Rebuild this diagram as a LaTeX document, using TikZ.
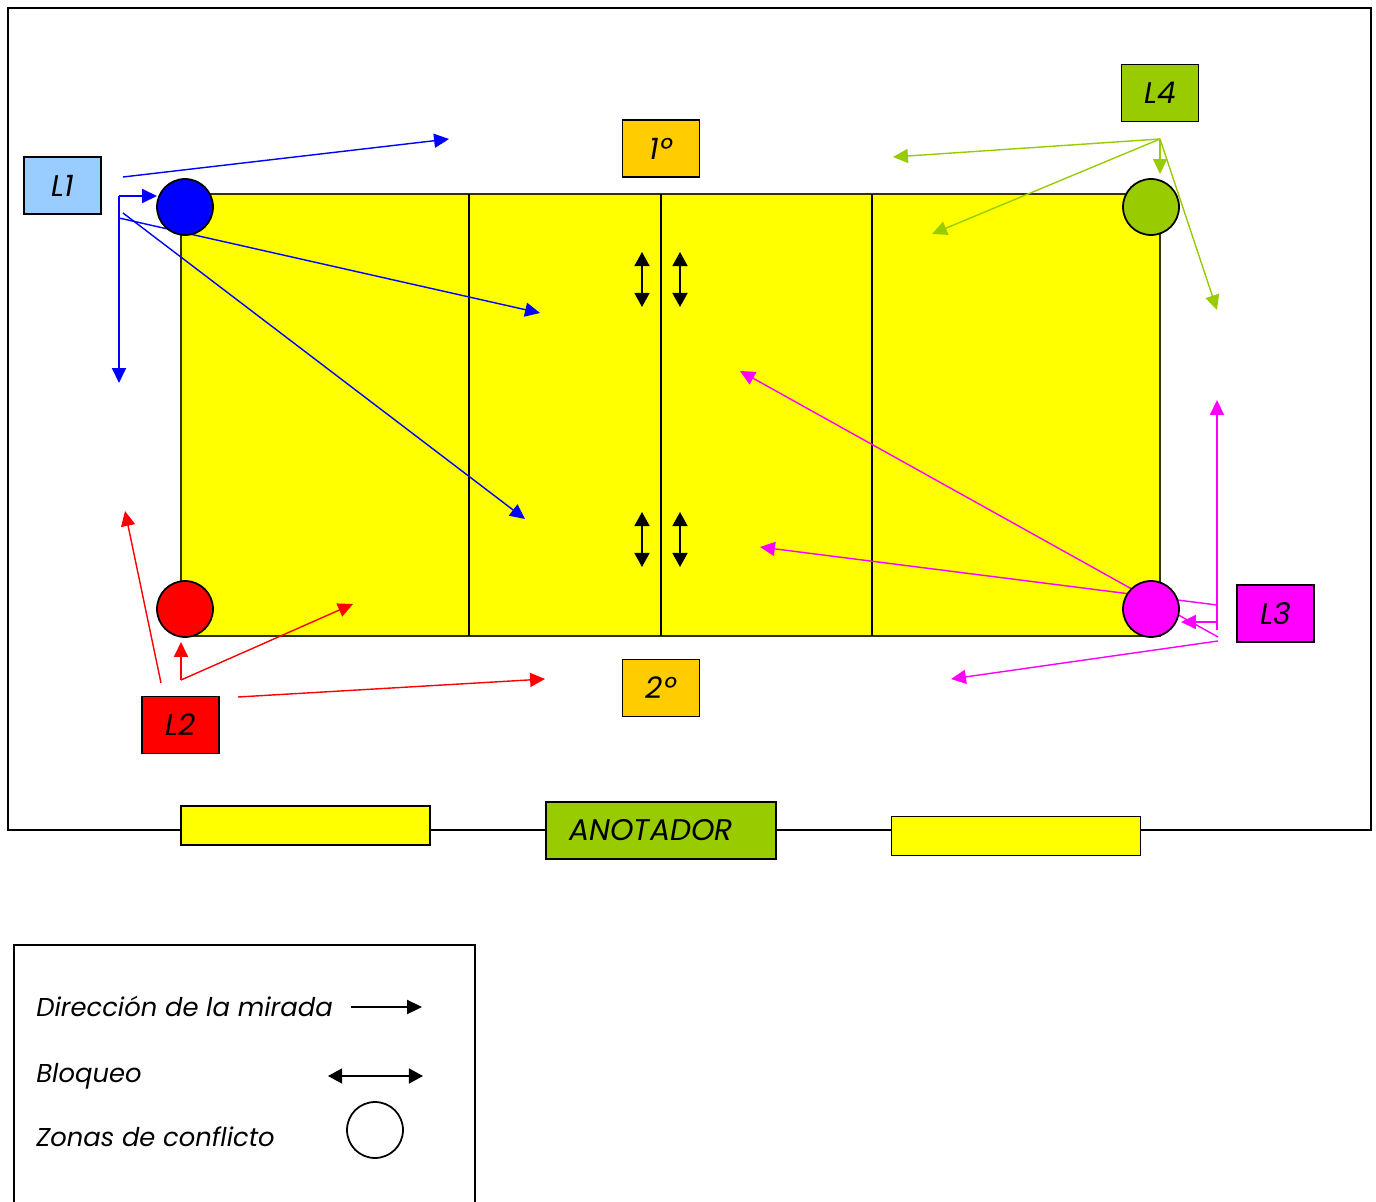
\documentclass[tikz,border=0pt]{standalone}
\usepackage{fontspec}
\setmainfont{Poppins}
\usepackage{tikz}
\usetikzlibrary{arrows.meta}
\usetikzlibrary{positioning}
\definecolor{celeste}{HTML}{99CCFF}
\definecolor{oliva}{HTML}{99CC00}
\definecolor{naranja}{HTML}{FFCC00}
\definecolor{fucsia}{HTML}{FF00FF}
\definecolor{amarillo}{HTML}{FFFF00}
\definecolor{rojo}{HTML}{FF0000}
\definecolor{azul}{HTML}{0000FF}
\definecolor{borde}{HTML}{333300}
\tikzset{>={Triangle[length=8.5pt, width=8pt]}}
\newcommand{\rotulo}{\fontsize{17}{20}\selectfont\itshape}
\newcommand{\leyenda}{\fontsize{14.7}{17}\selectfont\itshape}
\tikzstyle{caja} = [rectangle, draw=black, line width=1pt, minimum width=1.54cm, minimum height=1.14cm, inner sep=0pt, font=\rotulo]
\tikzstyle{banco} = [rectangle, draw=black, line width=1pt, fill=amarillo, minimum width=4.98cm, minimum height=0.78cm, inner sep=0pt]
\tikzstyle{zona} = [circle, draw=black, line width=1pt, minimum size=1.12cm, inner sep=0pt]
\tikzstyle{mira} = [->, line width=0.8pt]
\tikzstyle{bloqueo} = [<->, line width=1.1pt, >={Triangle[length=8pt, width=8.5pt]}]
\tikzstyle{texto} = [anchor=base west, inner sep=0pt, font=\leyenda]

\begin{document}
\begin{tikzpicture}[x=0.02cm, y=-0.02cm]
\useasboundingbox (0,0) rectangle (1376,1202);
% marco y cancha
\draw [line width=1pt] (8,830) -- (8,8) -- (1371,8) -- (1371,830) -- cycle;
\draw [fill=amarillo, draw=borde, line width=1pt] (181,194) rectangle (1160,636);
\foreach \x in {469, 661, 872} \draw [line width=1pt] (\x,194) -- (\x,636);

% jueces y mesa
\node [caja, fill=celeste] (L1) at (62.5,185.5) {L1};
\node [caja, fill=oliva] (L4) at (1160,93) {L4};
\node [caja, fill=fucsia] (L3) at (1275.5,613.5) {L3};
\node [caja, fill=rojo] (L2) at (180.5,725) {L2};
\node [caja, fill=naranja] (P1) at (661,148.5) {1º};
\node [caja, fill=naranja] (P2) at (661,688) {2º};
\node [banco] (bancoA) at (305.5,825.5) {};
\node [banco] (bancoB) at (1016,836) {};
\node [caja, fill=oliva, minimum width=4.6cm] (anot) at (661,830.5) {};
\node [anchor=west, inner sep=0pt, font=\rotulo] (anottxt) at (569,830.5) {ANOTADOR};

% L1
\coordinate (a1) at (123,177);
\coordinate (b1) at (449,139);
\coordinate (e1) at (119,196);
\coordinate (p1) at (157,196);
\coordinate (c1) at (119,383);
\coordinate (d1) at (119,218);
\coordinate (g1) at (540,313);
\coordinate (h1) at (123,213);
\coordinate (k1) at (525,519);
\draw [mira, draw=azul, fill=azul] (a1) -- (b1);
\draw [mira, draw=azul, fill=azul] (e1) -- (p1);
\draw [mira, draw=azul, fill=azul] (e1) -- (c1);
\draw [mira, draw=azul, fill=azul] (d1) -- (g1);
\draw [mira, draw=azul, fill=azul] (h1) -- (k1);

% L4
\coordinate (o4) at (1160,139);
\foreach \x/\y [count=\i] in {893/157, 932/234, 1160/174, 1217/310} {
  \coordinate (v\i) at (\x,\y);
  \draw [mira, draw=oliva, fill=oliva] (o4) -- (v\i);
}

% L3
\coordinate (a3) at (1217,605);
\coordinate (b3) at (760,547);
\coordinate (c3) at (1218,637);
\coordinate (d3) at (740,371);
\coordinate (e3) at (1217,622);
\coordinate (p3) at (1181,622);
\coordinate (f3) at (1217,630);
\coordinate (g3) at (1217,400);
\coordinate (h3) at (1218,641);
\coordinate (k3) at (951,679);
\draw [mira, draw=fucsia, fill=fucsia] (a3) -- (b3);
\draw [mira, draw=fucsia, fill=fucsia] (c3) -- (d3);
\draw [mira, draw=fucsia, fill=fucsia] (e3) -- (p3);
\draw [mira, draw=fucsia, fill=fucsia] (f3) -- (g3);
\draw [mira, draw=fucsia, fill=fucsia] (h3) -- (k3);

% L2
\coordinate (a2) at (161,683);
\coordinate (b2) at (125,511);
\coordinate (e2) at (181,680);
\coordinate (p2) at (181,642);
\coordinate (c2) at (353,604);
\coordinate (d2) at (238,697);
\coordinate (g2) at (545,679);
\draw [mira, draw=rojo, fill=rojo] (a2) -- (b2);
\draw [mira, draw=rojo, fill=rojo] (e2) -- (p2);
\draw [mira, draw=rojo, fill=rojo] (e2) -- (c2);
\draw [mira, draw=rojo, fill=rojo] (d2) -- (g2);

% zonas de conflicto
\node [zona, fill=azul] (zonaA) at (185,207) {};
\node [zona, fill=oliva] (zonaB) at (1151,207) {};
\node [zona, fill=rojo] (zonaC) at (185,609) {};
\node [zona, fill=fucsia] (zonaD) at (1151,609) {};

% bloqueos
\foreach \x in {642, 680} {
  \coordinate (s\x) at (\x,252);
  \coordinate (t\x) at (\x,307);
  \coordinate (u\x) at (\x,512);
  \coordinate (w\x) at (\x,567);
  \draw [bloqueo, fill=black] (s\x) -- (t\x);
  \draw [bloqueo, fill=black] (u\x) -- (w\x);
}

% leyenda
\draw [line width=1pt] (14,1202) -- (14,945) -- (475,945) -- (475,1202);
\node [texto] (tmira) at (36,1016) {Dirección de la mirada};
\node [texto] (tbloq) at (36,1082) {Bloqueo};
\node [texto] (tzona) at (36,1146) {Zonas de conflicto};
\coordinate (m1) at (351,1007);
\coordinate (m2) at (422,1007);
\coordinate (n1) at (328,1076);
\coordinate (n2) at (423,1076);
\draw [mira, line width=1pt, fill=black] (m1) -- (m2);
\draw [bloqueo, line width=1pt, fill=black] (n1) -- (n2);
\node [zona] (lzona) at (375,1130) {};
\end{tikzpicture}
\end{document}
